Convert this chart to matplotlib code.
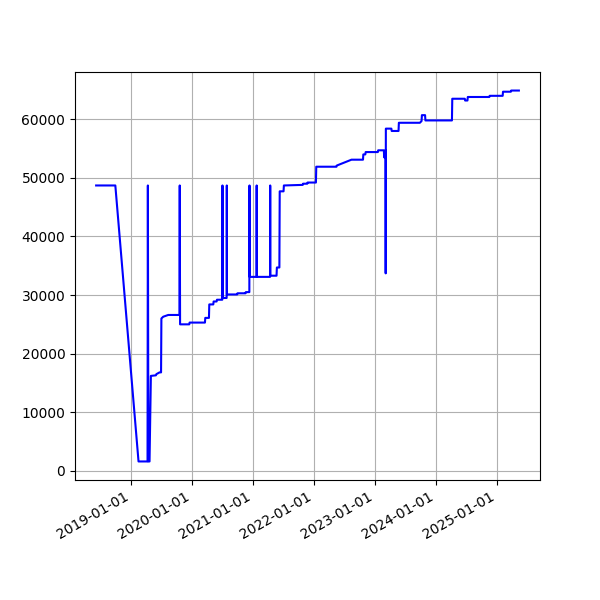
import matplotlib
matplotlib.use("Agg")
import matplotlib.pyplot as plt
import matplotlib.dates as mdates
import pandas as pd

dates = [
    "2018-06-06", "2018-09-29", "2019-02-15", "2019-04-10", "2019-04-12", "2019-04-15",
    "2019-04-22", "2019-04-30", "2019-05-30", "2019-06-02", "2019-06-21", "2019-06-30",
    "2019-07-02", "2019-07-13", "2019-08-12", "2019-10-18", "2019-10-20", "2019-10-22",
    "2019-12-16", "2019-12-18", "2020-03-19", "2020-03-21", "2020-04-12", "2020-04-14",
    "2020-05-08", "2020-05-10", "2020-05-28", "2020-05-30", "2020-07-01", "2020-07-02",
    "2020-07-03", "2020-07-27", "2020-07-28", "2020-07-29", "2020-09-28", "2020-09-30",
    "2020-11-17", "2020-11-19", "2020-12-10", "2020-12-11", "2020-12-12", "2021-01-22",
    "2021-01-23", "2021-01-24", "2021-04-13", "2021-04-14", "2021-04-15", "2021-05-22",
    "2021-05-24", "2021-06-08", "2021-06-10", "2021-07-03", "2021-07-05", "2021-10-26",
    "2021-10-28", "2021-11-22", "2021-11-24", "2022-01-13", "2022-01-15", "2022-05-16",
    "2022-05-18", "2022-08-14", "2022-10-22", "2022-10-24", "2022-11-05", "2022-11-07",
    "2023-01-19", "2023-01-21", "2023-02-24", "2023-02-26", "2023-03-06", "2023-03-07",
    "2023-03-08", "2023-04-10", "2023-04-12", "2023-05-23", "2023-05-25", "2023-09-28",
    "2023-10-08", "2023-10-10", "2023-10-29", "2023-10-31", "2024-04-07", "2024-04-09",
    "2024-06-23", "2024-06-25", "2024-07-09", "2024-07-11", "2024-11-17", "2024-11-19",
    "2025-02-05", "2025-02-07", "2025-03-26", "2025-03-28", "2025-05-13",
]
values = [
    48700, 48700, 1600, 1600, 48700, 1600,
    1600, 16200, 16300, 16500, 16800, 16800,
    26000, 26300, 26600, 26600, 48700, 25000,
    25000, 25300, 25300, 26100, 26100, 28400,
    28400, 28900, 28900, 29200, 29200, 48700,
    29500, 29500, 48700, 30100, 30100, 30300,
    30300, 30500, 30500, 48700, 33100, 33100,
    48700, 33100, 33100, 48700, 33300, 33300,
    34700, 34700, 47700, 47700, 48700, 48800,
    49000, 49000, 49200, 49200, 51900, 51900,
    52100, 53100, 53100, 54000, 54000, 54400,
    54400, 54700, 54700, 53500, 54700, 33700,
    58400, 58400, 58000, 58000, 59400, 59400,
    59700, 60700, 60700, 59800, 59800, 63500,
    63500, 63200, 63200, 63800, 63800, 64000,
    64000, 64700, 64700, 64900, 64900,
]

x = pd.to_datetime(dates)

fig, ax = plt.subplots(figsize=(6, 6), dpi=100)
ax.plot(x, values, color="blue", linewidth=1.5)
ax.grid(True)
ax.xaxis.set_major_locator(mdates.YearLocator())
ax.xaxis.set_major_formatter(mdates.DateFormatter("%Y-%m-%d"))
fig.autofmt_xdate()
fig.savefig("out.png", dpi=100)
